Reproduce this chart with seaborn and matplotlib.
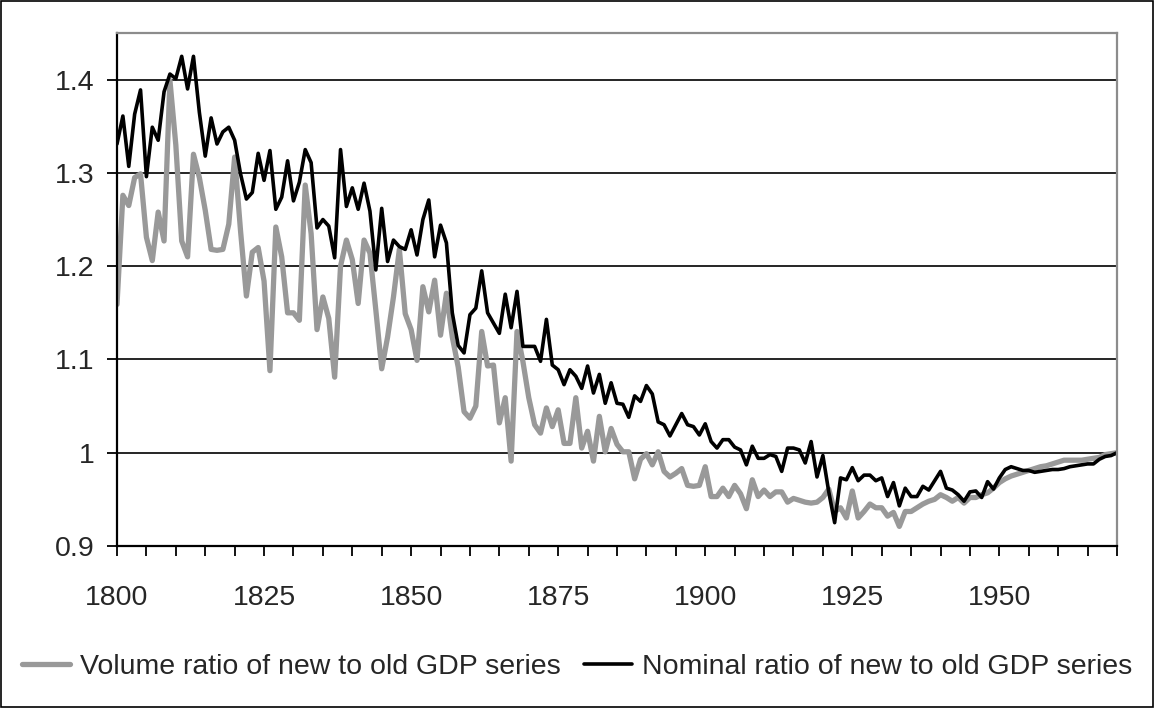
import matplotlib
matplotlib.use('Agg')
import matplotlib.pyplot as plt
import matplotlib.patches as patches
from matplotlib.lines import Line2D
import seaborn as sns
import pandas as pd

# Years on the category axis
years = list(range(1800, 1971))

# Volume ratio of new to old GDP series (grey line)
volume = [
    1.159, 1.276, 1.265, 1.295, 1.299, 1.231, 1.206, 1.258, 1.227, 1.399,  # 1800s
    1.330, 1.227, 1.210, 1.320, 1.295, 1.260, 1.218, 1.217, 1.218, 1.245,  # 1810s
    1.317, 1.238, 1.168, 1.215, 1.220, 1.184, 1.088, 1.242, 1.210, 1.150,  # 1820s
    1.150, 1.142, 1.287, 1.235, 1.132, 1.167, 1.144, 1.081, 1.200, 1.228,  # 1830s
    1.207, 1.160, 1.228, 1.214, 1.153, 1.090, 1.124, 1.167, 1.218, 1.149,  # 1840s
    1.132, 1.099, 1.178, 1.151, 1.185, 1.126, 1.171, 1.124, 1.092, 1.044,  # 1850s
    1.037, 1.050, 1.130, 1.093, 1.094, 1.032, 1.059, 0.991, 1.130, 1.098,  # 1860s
    1.059, 1.030, 1.021, 1.048, 1.028, 1.046, 1.010, 1.010, 1.059, 1.005,  # 1870s
    1.023, 0.991, 1.039, 1.001, 1.026, 1.009, 1.001, 1.001, 0.972, 0.993,  # 1880s
    0.999, 0.987, 1.001, 0.980, 0.974, 0.978, 0.983, 0.965, 0.964, 0.965,  # 1890s
    0.985, 0.953, 0.953, 0.962, 0.953, 0.965, 0.956, 0.940, 0.971, 0.953,  # 1900s
    0.960, 0.953, 0.958, 0.958, 0.947, 0.951, 0.949, 0.947, 0.946, 0.947,  # 1910s
    0.952, 0.961, 0.937, 0.941, 0.930, 0.959, 0.930, 0.937, 0.945, 0.941,  # 1920s
    0.941, 0.932, 0.936, 0.921, 0.937, 0.937, 0.941, 0.945, 0.948, 0.950,  # 1930s
    0.955, 0.952, 0.948, 0.952, 0.946, 0.952, 0.952, 0.955, 0.957, 0.962,  # 1940s
    0.968, 0.972, 0.975, 0.977, 0.979, 0.981, 0.983, 0.985, 0.986, 0.988,  # 1950s
    0.990, 0.992, 0.992, 0.992, 0.992, 0.993, 0.994, 0.995, 0.998, 0.999,  # 1960s
    1.000,
]

# Nominal ratio of new to old GDP series (black line)
nominal = [
    1.331, 1.361, 1.307, 1.363, 1.389, 1.296, 1.349, 1.335, 1.387, 1.406,
    1.401, 1.425, 1.390, 1.425, 1.365, 1.318, 1.359, 1.331, 1.344, 1.349,
    1.335, 1.299, 1.272, 1.279, 1.321, 1.292, 1.324, 1.261, 1.274, 1.313,
    1.270, 1.290, 1.325, 1.311, 1.241, 1.250, 1.243, 1.209, 1.325, 1.264,
    1.284, 1.261, 1.289, 1.259, 1.196, 1.262, 1.205, 1.228, 1.221, 1.218,
    1.239, 1.212, 1.250, 1.271, 1.210, 1.244, 1.225, 1.150, 1.115, 1.107,
    1.148, 1.155, 1.195, 1.150, 1.139, 1.128, 1.170, 1.134, 1.173, 1.114,
    1.114, 1.114, 1.098, 1.143, 1.094, 1.089, 1.073, 1.089, 1.082, 1.069,
    1.093, 1.064, 1.084, 1.053, 1.075, 1.053, 1.052, 1.038, 1.061, 1.055,
    1.072, 1.063, 1.033, 1.030, 1.018, 1.030, 1.042, 1.030, 1.028, 1.019,
    1.031, 1.012, 1.005, 1.014, 1.014, 1.006, 1.003, 0.987, 1.007, 0.994,
    0.994, 0.998, 0.996, 0.980, 1.005, 1.005, 1.003, 0.989, 1.012, 0.974,
    0.997, 0.958, 0.925, 0.973, 0.971, 0.984, 0.970, 0.976, 0.976, 0.970,
    0.973, 0.953, 0.968, 0.943, 0.962, 0.953, 0.953, 0.964, 0.960, 0.970,
    0.980, 0.962, 0.960, 0.955, 0.948, 0.958, 0.959, 0.952, 0.969, 0.961,
    0.973, 0.982, 0.985, 0.983, 0.981, 0.981, 0.979, 0.980, 0.981, 0.982,
    0.982, 0.983, 0.985, 0.986, 0.987, 0.988, 0.988, 0.993, 0.996, 0.997,
    1.000,
]

label_volume = 'Volume ratio of new to old GDP series'
label_nominal = 'Nominal ratio of new to old GDP series'
x_labels = [1800, 1825, 1850, 1875, 1900, 1925, 1950]
y_ticks = [0.9, 1.0, 1.1, 1.2, 1.3, 1.4]
y_tick_labels = ['0.9', '1', '1.1', '1.2', '1.3', '1.4']

df = pd.DataFrame({'year': years, 'volume': volume, 'nominal': nominal})

sns.set_style('white')
plt.rcParams['font.family'] = ['Liberation Sans', 'DejaVu Sans']
plt.rcParams['font.size'] = 20.5

grey = '#999999'

fig = plt.figure(figsize=(11.54, 7.08), dpi=100)
ax = fig.add_axes([117 / 1154, 1 - 546 / 708, 1000 / 1154, (546 - 33) / 708])

sns.lineplot(data=df, x='year', y='volume', color=grey, linewidth=3.8, ax=ax)
sns.lineplot(data=df, x='year', y='nominal', color='black', linewidth=2.6, ax=ax)

ax.set_xlim(1800, 1970)
ax.set_ylim(0.9, 1.45)
ax.set_xlabel('')
ax.set_ylabel('')

# ticks every 5 years, labels every 25
ax.set_xticks(list(range(1800, 1971, 5)))
ax.set_xticklabels([str(y) if y in x_labels else '' for y in range(1800, 1971, 5)])
ax.set_yticks(y_ticks)
ax.set_yticklabels(y_tick_labels)
ax.tick_params(axis='x', direction='out', length=7, width=1.3, color='black', pad=21)
ax.tick_params(axis='y', direction='out', length=7, width=1.3, color='black', pad=9)
ax.tick_params(bottom=True, left=True)

ax.yaxis.grid(True, color='black', linewidth=1.2)
ax.xaxis.grid(False)
ax.set_axisbelow(True)

for side in ['left', 'bottom']:
    ax.spines[side].set_color('black')
    ax.spines[side].set_linewidth(1.6)
for side in ['top', 'right']:
    ax.spines[side].set_color('#8c8c8c')
    ax.spines[side].set_linewidth(1.6)
    ax.spines[side].set_visible(True)

handles = [Line2D([0], [0], color=grey, linewidth=3.8),
           Line2D([0], [0], color='black', linewidth=2.6)]
fig.legend(handles, [label_volume, label_nominal], loc='center',
           bbox_to_anchor=(0.5, 1 - 667 / 708), ncol=2, frameon=False,
           handlelength=1.7, handletextpad=0.35, columnspacing=0.8, fontsize=20.5)

# outer chart border
fig.patches.append(patches.Rectangle((0.0008, 0.0012), 0.9984, 0.9976, transform=fig.transFigure,
                                     fill=False, edgecolor='black', linewidth=1.2))

fig.savefig('out.png', dpi=100, facecolor='white')
